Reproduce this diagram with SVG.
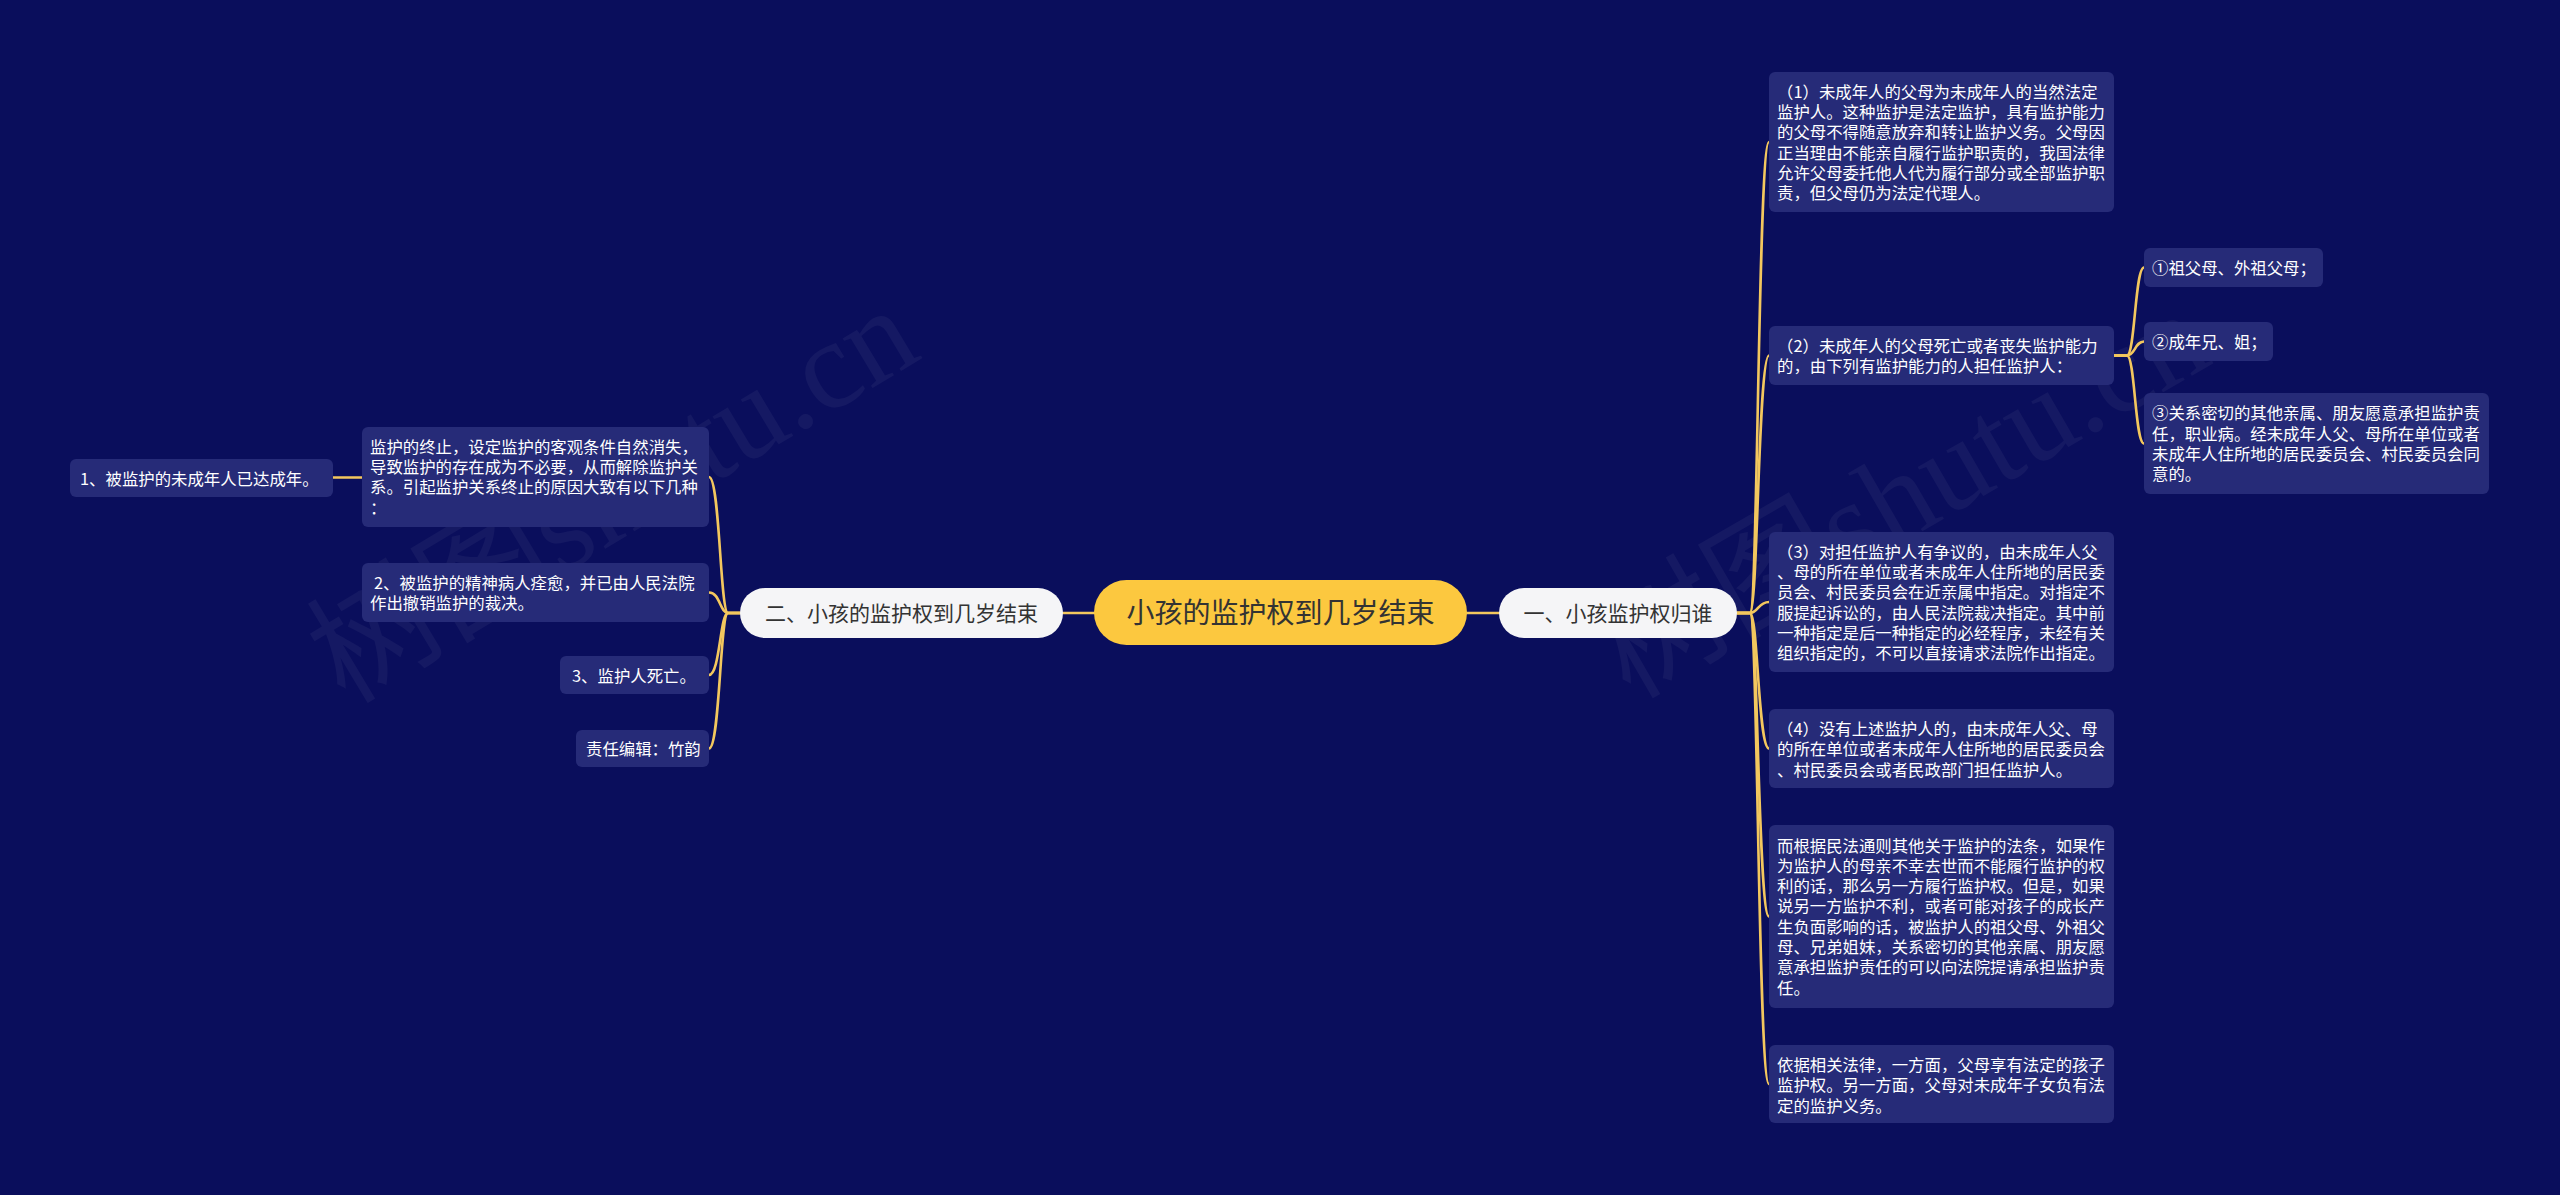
<svg xmlns="http://www.w3.org/2000/svg" width="2560" height="1195" viewBox="0 0 2560 1195">
<style>
text{font-family:"Noto Sans CJK SC","Noto Sans",sans-serif}
.bg{fill:#0a0e5c}
.n{fill:#262b78}
.t{fill:#ffffff;font-size:16.4px}
.l1{fill:#f5f5f7}
.lt{fill:#333333;font-size:21px}
.c{fill:#fcc83f}
.ct{fill:#333333;font-size:28px}
.e{fill:none;stroke:#f3c75e;stroke-width:2.6;stroke-linecap:round}
.wm{fill:#ffffff;opacity:0.045;font-family:"Liberation Serif","Noto Sans CJK SC",serif;font-size:126px}
</style>
<rect class="bg" x="0" y="0" width="2560" height="1195"/>
<g id="watermarks">
<text class="wm" x="345" y="705" transform="rotate(-31 345 705)">树图shutu.cn</text>
<text class="wm" x="1630" y="700" transform="rotate(-30 1630 700)">树图shutu.cn</text>
</g>
<g id="connectors">
<path class="e" d="M1466 613 H1499"/>
<path class="e" d="M1094 613 H1063"/>
<path class="e" d="M1737 613 H1750 C1758 613 1758 142 1769 142"/>
<path class="e" d="M1737 613 H1750 C1758 613 1758 355.5 1769 355.5"/>
<path class="e" d="M1737 613 H1750 C1758 613 1758 602 1769 602"/>
<path class="e" d="M1737 613 H1750 C1758 613 1758 748.5 1769 748.5"/>
<path class="e" d="M1737 613 H1750 C1758 613 1758 916.5 1769 916.5"/>
<path class="e" d="M1737 613 H1750 C1758 613 1758 1084 1769 1084"/>
<path class="e" d="M2114 355.5 H2127 C2135 355.5 2135 267.5 2144 267.5"/>
<path class="e" d="M2114 355.5 H2127 C2135 355.5 2135 341.5 2144 341.5"/>
<path class="e" d="M2114 355.5 H2127 C2135 355.5 2135 443.5 2144 443.5"/>
<path class="e" d="M740 613 H728 C720 613 720 477 709 477"/>
<path class="e" d="M740 613 H728 C720 613 720 592.5 709 592.5"/>
<path class="e" d="M740 613 H728 C720 613 720 675 709 675"/>
<path class="e" d="M740 613 H728 C720 613 720 748.5 709 748.5"/>
<path class="e" d="M362 477.5 H333"/>
</g>
<g id="center">
<rect class="c" x="1094" y="580" width="373" height="65" rx="32.5"/>
<text class="ct" x="1280.5" y="623" text-anchor="middle">小孩的监护权到几岁结束</text>
</g>
<g id="branch-right">
<rect class="l1" x="1499" y="588" width="238" height="50" rx="25"/>
<text class="lt" x="1618" y="621" text-anchor="middle">一、小孩监护权归谁</text>
</g>
<g id="branch-left">
<rect class="l1" x="740" y="588" width="323" height="50" rx="25"/>
<text class="lt" x="901.5" y="621" text-anchor="middle">二、小孩的监护权到几岁结束</text>
</g>
<g id="r1">
<rect class="n" x="1769" y="72" width="345" height="140" rx="6"/>
<text class="t" x="1777" y="97.8"><tspan x="1777">（1）未成年人的父母为未成年人的当然法定</tspan><tspan x="1777" dy="20.3">监护人。这种监护是法定监护，具有监护能力</tspan><tspan x="1777" dy="20.3">的父母不得随意放弃和转让监护义务。父母因</tspan><tspan x="1777" dy="20.3">正当理由不能亲自履行监护职责的，我国法律</tspan><tspan x="1777" dy="20.3">允许父母委托他人代为履行部分或全部监护职</tspan><tspan x="1777" dy="20.3">责，但父母仍为法定代理人。</tspan></text>
</g>
<g id="r2">
<rect class="n" x="1769" y="326" width="345" height="59" rx="6"/>
<text class="t" x="1777" y="351.8"><tspan x="1777">（2）未成年人的父母死亡或者丧失监护能力</tspan><tspan x="1777" dy="20.3">的，由下列有监护能力的人担任监护人：</tspan></text>
</g>
<g id="r2a">
<rect class="n" x="2144" y="248" width="179" height="39" rx="6"/>
<text class="t" x="2152" y="273.8">①祖父母、外祖父母；</text>
</g>
<g id="r2b">
<rect class="n" x="2144" y="322" width="129" height="39" rx="6"/>
<text class="t" x="2152" y="347.8">②成年兄、姐；</text>
</g>
<g id="r2c">
<rect class="n" x="2144" y="393" width="345" height="101" rx="6"/>
<text class="t" x="2152" y="419.3"><tspan x="2152">③关系密切的其他亲属、朋友愿意承担监护责</tspan><tspan x="2152" dy="20.3">任，职业病。经未成年人父、母所在单位或者</tspan><tspan x="2152" dy="20.3">未成年人住所地的居民委员会、村民委员会同</tspan><tspan x="2152" dy="20.3">意的。</tspan></text>
</g>
<g id="r3">
<rect class="n" x="1769" y="532" width="345" height="140" rx="6"/>
<text class="t" x="1777" y="557.8"><tspan x="1777">（3）对担任监护人有争议的，由未成年人父</tspan><tspan x="1777" dy="20.3">、母的所在单位或者未成年人住所地的居民委</tspan><tspan x="1777" dy="20.3">员会、村民委员会在近亲属中指定。对指定不</tspan><tspan x="1777" dy="20.3">服提起诉讼的，由人民法院裁决指定。其中前</tspan><tspan x="1777" dy="20.3">一种指定是后一种指定的必经程序，未经有关</tspan><tspan x="1777" dy="20.3">组织指定的，不可以直接请求法院作出指定。</tspan></text>
</g>
<g id="r4">
<rect class="n" x="1769" y="709" width="345" height="79" rx="6"/>
<text class="t" x="1777" y="735"><tspan x="1777">（4）没有上述监护人的，由未成年人父、母</tspan><tspan x="1777" dy="20.3">的所在单位或者未成年人住所地的居民委员会</tspan><tspan x="1777" dy="20.3">、村民委员会或者民政部门担任监护人。</tspan></text>
</g>
<g id="r5">
<rect class="n" x="1769" y="825" width="345" height="183" rx="6"/>
<text class="t" x="1777" y="851.5"><tspan x="1777">而根据民法通则其他关于监护的法条，如果作</tspan><tspan x="1777" dy="20.3">为监护人的母亲不幸去世而不能履行监护的权</tspan><tspan x="1777" dy="20.3">利的话，那么另一方履行监护权。但是，如果</tspan><tspan x="1777" dy="20.3">说另一方监护不利，或者可能对孩子的成长产</tspan><tspan x="1777" dy="20.3">生负面影响的话，被监护人的祖父母、外祖父</tspan><tspan x="1777" dy="20.3">母、兄弟姐妹，关系密切的其他亲属、朋友愿</tspan><tspan x="1777" dy="20.3">意承担监护责任的可以向法院提请承担监护责</tspan><tspan x="1777" dy="20.3">任。</tspan></text>
</g>
<g id="r6">
<rect class="n" x="1769" y="1045" width="345" height="78" rx="6"/>
<text class="t" x="1777" y="1071"><tspan x="1777">依据相关法律，一方面，父母享有法定的孩子</tspan><tspan x="1777" dy="20.3">监护权。另一方面，父母对未成年子女负有法</tspan><tspan x="1777" dy="20.3">定的监护义务。</tspan></text>
</g>
<g id="l1">
<rect class="n" x="362" y="427" width="347" height="100" rx="6"/>
<text class="t" x="370" y="452.8"><tspan x="370">监护的终止，设定监护的客观条件自然消失，</tspan><tspan x="370" dy="20.3">导致监护的存在成为不必要，从而解除监护关</tspan><tspan x="370" dy="20.3">系。引起监护关系终止的原因大致有以下几种</tspan><tspan x="370" dy="20.3">：</tspan></text>
</g>
<g id="l1a">
<rect class="n" x="70" y="459" width="263" height="38" rx="6"/>
<text class="t" x="80" y="484.5">1、被监护的未成年人已达成年。</text>
</g>
<g id="l2">
<rect class="n" x="362" y="563" width="347" height="59" rx="6"/>
<text class="t" x="374" y="588.8"><tspan x="374">2、被监护的精神病人痊愈，并已由人民法院</tspan><tspan x="370" dy="20.3">作出撤销监护的裁决。</tspan></text>
</g>
<g id="l3">
<rect class="n" x="560" y="656" width="149" height="38" rx="6"/>
<text class="t" x="572" y="681.5">3、监护人死亡。</text>
</g>
<g id="l4">
<rect class="n" x="576" y="730" width="133" height="37" rx="6"/>
<text class="t" x="586" y="754.8">责任编辑：竹韵</text>
</g>
</svg>
